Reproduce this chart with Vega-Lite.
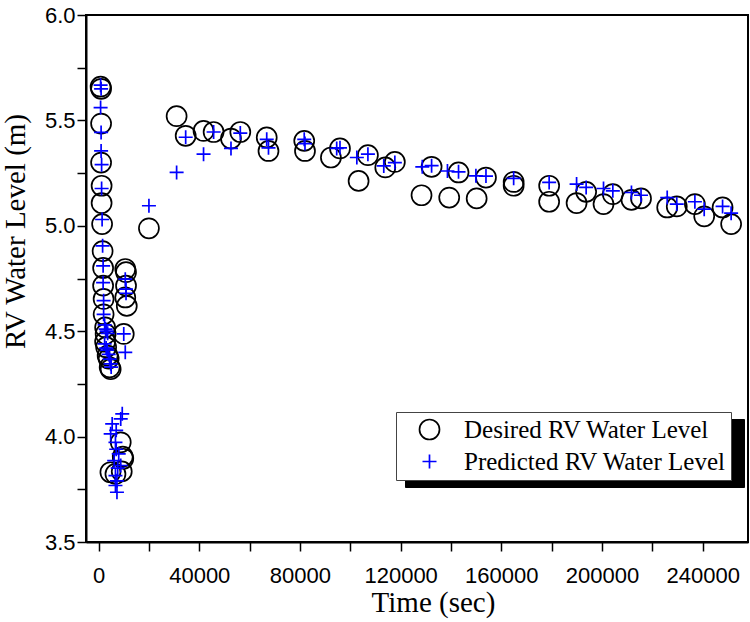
{
  "$schema": "https://vega.github.io/schema/vega-lite/v6.json",
  "width": 662,
  "height": 527,
  "autosize": "none",
  "padding": {"left": 86, "top": 15, "right": 2, "bottom": 80},
  "background": "white",
  "config": {
    "view": {"stroke": "black", "strokeWidth": 2},
    "axis": {
      "grid": false,
      "ticks": true,
      "zindex": 1,
      "domainColor": "black",
      "domainWidth": 2,
      "tickColor": "black",
      "tickWidth": 1.5,
      "labelFont": "Liberation Sans",
      "labelFontSize": 22,
      "labelColor": "black",
      "titleFont": "Liberation Serif",
      "titleFontSize": 29,
      "titleFontWeight": "normal",
      "titleColor": "black",
      "labelOverlap": false,
      "labelFlush": false,
      "labelBound": false
    }
  },
  "data": {
    "values": [
      {"t": 800, "level": 5.66, "series": "Desired RV Water Level"},
      {"t": 1000, "level": 5.65, "series": "Desired RV Water Level"},
      {"t": 1000, "level": 5.485, "series": "Desired RV Water Level"},
      {"t": 1000, "level": 5.30, "series": "Desired RV Water Level"},
      {"t": 1200, "level": 5.19, "series": "Desired RV Water Level"},
      {"t": 1200, "level": 5.108, "series": "Desired RV Water Level"},
      {"t": 1400, "level": 5.008, "series": "Desired RV Water Level"},
      {"t": 1600, "level": 4.88, "series": "Desired RV Water Level"},
      {"t": 1800, "level": 4.80, "series": "Desired RV Water Level"},
      {"t": 1800, "level": 4.716, "series": "Desired RV Water Level"},
      {"t": 2000, "level": 4.653, "series": "Desired RV Water Level"},
      {"t": 2000, "level": 4.58, "series": "Desired RV Water Level"},
      {"t": 2600, "level": 4.518, "series": "Desired RV Water Level"},
      {"t": 2800, "level": 4.487, "series": "Desired RV Water Level"},
      {"t": 2600, "level": 4.45, "series": "Desired RV Water Level"},
      {"t": 3000, "level": 4.424, "series": "Desired RV Water Level"},
      {"t": 3600, "level": 4.384, "series": "Desired RV Water Level"},
      {"t": 4000, "level": 4.37, "series": "Desired RV Water Level"},
      {"t": 4400, "level": 4.329, "series": "Desired RV Water Level"},
      {"t": 4800, "level": 4.32, "series": "Desired RV Water Level"},
      {"t": 10600, "level": 4.795, "series": "Desired RV Water Level"},
      {"t": 10900, "level": 4.78, "series": "Desired RV Water Level"},
      {"t": 10900, "level": 4.716, "series": "Desired RV Water Level"},
      {"t": 10600, "level": 4.66, "series": "Desired RV Water Level"},
      {"t": 11200, "level": 4.62, "series": "Desired RV Water Level"},
      {"t": 10000, "level": 4.487, "series": "Desired RV Water Level"},
      {"t": 8800, "level": 3.973, "series": "Desired RV Water Level"},
      {"t": 9600, "level": 3.905, "series": "Desired RV Water Level"},
      {"t": 9800, "level": 3.895, "series": "Desired RV Water Level"},
      {"t": 4700, "level": 3.831, "series": "Desired RV Water Level"},
      {"t": 6700, "level": 3.823, "series": "Desired RV Water Level"},
      {"t": 9200, "level": 3.835, "series": "Desired RV Water Level"},
      {"t": 20000, "level": 4.988, "series": "Desired RV Water Level"},
      {"t": 31000, "level": 5.52, "series": "Desired RV Water Level"},
      {"t": 34600, "level": 5.427, "series": "Desired RV Water Level"},
      {"t": 41700, "level": 5.45, "series": "Desired RV Water Level"},
      {"t": 45700, "level": 5.445, "series": "Desired RV Water Level"},
      {"t": 52600, "level": 5.414, "series": "Desired RV Water Level"},
      {"t": 56300, "level": 5.445, "series": "Desired RV Water Level"},
      {"t": 66800, "level": 5.419, "series": "Desired RV Water Level"},
      {"t": 67500, "level": 5.355, "series": "Desired RV Water Level"},
      {"t": 81700, "level": 5.403, "series": "Desired RV Water Level"},
      {"t": 82000, "level": 5.355, "series": "Desired RV Water Level"},
      {"t": 92300, "level": 5.324, "series": "Desired RV Water Level"},
      {"t": 95900, "level": 5.367, "series": "Desired RV Water Level"},
      {"t": 103300, "level": 5.213, "series": "Desired RV Water Level"},
      {"t": 107000, "level": 5.335, "series": "Desired RV Water Level"},
      {"t": 113900, "level": 5.277, "series": "Desired RV Water Level"},
      {"t": 117700, "level": 5.303, "series": "Desired RV Water Level"},
      {"t": 128300, "level": 5.145, "series": "Desired RV Water Level"},
      {"t": 132300, "level": 5.28, "series": "Desired RV Water Level"},
      {"t": 139300, "level": 5.134, "series": "Desired RV Water Level"},
      {"t": 143000, "level": 5.253, "series": "Desired RV Water Level"},
      {"t": 150200, "level": 5.13, "series": "Desired RV Water Level"},
      {"t": 153900, "level": 5.229, "series": "Desired RV Water Level"},
      {"t": 164900, "level": 5.208, "series": "Desired RV Water Level"},
      {"t": 164900, "level": 5.19, "series": "Desired RV Water Level"},
      {"t": 179000, "level": 5.19, "series": "Desired RV Water Level"},
      {"t": 179000, "level": 5.114, "series": "Desired RV Water Level"},
      {"t": 189900, "level": 5.108, "series": "Desired RV Water Level"},
      {"t": 193700, "level": 5.161, "series": "Desired RV Water Level"},
      {"t": 200600, "level": 5.103, "series": "Desired RV Water Level"},
      {"t": 204300, "level": 5.15, "series": "Desired RV Water Level"},
      {"t": 211700, "level": 5.123, "series": "Desired RV Water Level"},
      {"t": 215500, "level": 5.13, "series": "Desired RV Water Level"},
      {"t": 225900, "level": 5.087, "series": "Desired RV Water Level"},
      {"t": 229700, "level": 5.092, "series": "Desired RV Water Level"},
      {"t": 236900, "level": 5.103, "series": "Desired RV Water Level"},
      {"t": 240600, "level": 5.045, "series": "Desired RV Water Level"},
      {"t": 247900, "level": 5.087, "series": "Desired RV Water Level"},
      {"t": 251300, "level": 5.008, "series": "Desired RV Water Level"},
      {"t": 800, "level": 5.667, "series": "Predicted RV Water Level"},
      {"t": 1000, "level": 5.65, "series": "Predicted RV Water Level"},
      {"t": 800, "level": 5.561, "series": "Predicted RV Water Level"},
      {"t": 1000, "level": 5.443, "series": "Predicted RV Water Level"},
      {"t": 1000, "level": 5.355, "series": "Predicted RV Water Level"},
      {"t": 1200, "level": 5.29, "series": "Predicted RV Water Level"},
      {"t": 1200, "level": 5.177, "series": "Predicted RV Water Level"},
      {"t": 1400, "level": 5.03, "series": "Predicted RV Water Level"},
      {"t": 1600, "level": 4.905, "series": "Predicted RV Water Level"},
      {"t": 1800, "level": 4.81, "series": "Predicted RV Water Level"},
      {"t": 1800, "level": 4.73, "series": "Predicted RV Water Level"},
      {"t": 2000, "level": 4.645, "series": "Predicted RV Water Level"},
      {"t": 2000, "level": 4.58, "series": "Predicted RV Water Level"},
      {"t": 2400, "level": 4.53, "series": "Predicted RV Water Level"},
      {"t": 2800, "level": 4.51, "series": "Predicted RV Water Level"},
      {"t": 3200, "level": 4.50, "series": "Predicted RV Water Level"},
      {"t": 3600, "level": 4.49, "series": "Predicted RV Water Level"},
      {"t": 2400, "level": 4.44, "series": "Predicted RV Water Level"},
      {"t": 3000, "level": 4.42, "series": "Predicted RV Water Level"},
      {"t": 3400, "level": 4.41, "series": "Predicted RV Water Level"},
      {"t": 4000, "level": 4.39, "series": "Predicted RV Water Level"},
      {"t": 4400, "level": 4.368, "series": "Predicted RV Water Level"},
      {"t": 4800, "level": 4.345, "series": "Predicted RV Water Level"},
      {"t": 5000, "level": 4.33, "series": "Predicted RV Water Level"},
      {"t": 10600, "level": 4.747, "series": "Predicted RV Water Level"},
      {"t": 10900, "level": 4.70, "series": "Predicted RV Water Level"},
      {"t": 10900, "level": 4.68, "series": "Predicted RV Water Level"},
      {"t": 10000, "level": 4.487, "series": "Predicted RV Water Level"},
      {"t": 10600, "level": 4.40, "series": "Predicted RV Water Level"},
      {"t": 9400, "level": 4.108, "series": "Predicted RV Water Level"},
      {"t": 8800, "level": 4.084, "series": "Predicted RV Water Level"},
      {"t": 5400, "level": 4.06, "series": "Predicted RV Water Level"},
      {"t": 7000, "level": 4.03, "series": "Predicted RV Water Level"},
      {"t": 4800, "level": 4.013, "series": "Predicted RV Water Level"},
      {"t": 6700, "level": 3.973, "series": "Predicted RV Water Level"},
      {"t": 7000, "level": 3.94, "series": "Predicted RV Water Level"},
      {"t": 8000, "level": 3.918, "series": "Predicted RV Water Level"},
      {"t": 6200, "level": 3.886, "series": "Predicted RV Water Level"},
      {"t": 8800, "level": 3.863, "series": "Predicted RV Water Level"},
      {"t": 7600, "level": 3.85, "series": "Predicted RV Water Level"},
      {"t": 6700, "level": 3.815, "series": "Predicted RV Water Level"},
      {"t": 7300, "level": 3.79, "series": "Predicted RV Water Level"},
      {"t": 6700, "level": 3.768, "series": "Predicted RV Water Level"},
      {"t": 7300, "level": 3.736, "series": "Predicted RV Water Level"},
      {"t": 20000, "level": 5.095, "series": "Predicted RV Water Level"},
      {"t": 31000, "level": 5.253, "series": "Predicted RV Water Level"},
      {"t": 34600, "level": 5.42, "series": "Predicted RV Water Level"},
      {"t": 41700, "level": 5.34, "series": "Predicted RV Water Level"},
      {"t": 45700, "level": 5.445, "series": "Predicted RV Water Level"},
      {"t": 52600, "level": 5.367, "series": "Predicted RV Water Level"},
      {"t": 56300, "level": 5.44, "series": "Predicted RV Water Level"},
      {"t": 66800, "level": 5.41, "series": "Predicted RV Water Level"},
      {"t": 67500, "level": 5.37, "series": "Predicted RV Water Level"},
      {"t": 81700, "level": 5.41, "series": "Predicted RV Water Level"},
      {"t": 82000, "level": 5.39, "series": "Predicted RV Water Level"},
      {"t": 94600, "level": 5.367, "series": "Predicted RV Water Level"},
      {"t": 95900, "level": 5.37, "series": "Predicted RV Water Level"},
      {"t": 102600, "level": 5.324, "series": "Predicted RV Water Level"},
      {"t": 107000, "level": 5.34, "series": "Predicted RV Water Level"},
      {"t": 113300, "level": 5.284, "series": "Predicted RV Water Level"},
      {"t": 117700, "level": 5.30, "series": "Predicted RV Water Level"},
      {"t": 128600, "level": 5.28, "series": "Predicted RV Water Level"},
      {"t": 132300, "level": 5.285, "series": "Predicted RV Water Level"},
      {"t": 138600, "level": 5.26, "series": "Predicted RV Water Level"},
      {"t": 143000, "level": 5.256, "series": "Predicted RV Water Level"},
      {"t": 149900, "level": 5.237, "series": "Predicted RV Water Level"},
      {"t": 153900, "level": 5.236, "series": "Predicted RV Water Level"},
      {"t": 164900, "level": 5.225, "series": "Predicted RV Water Level"},
      {"t": 179000, "level": 5.206, "series": "Predicted RV Water Level"},
      {"t": 189900, "level": 5.198, "series": "Predicted RV Water Level"},
      {"t": 193700, "level": 5.182, "series": "Predicted RV Water Level"},
      {"t": 200600, "level": 5.177, "series": "Predicted RV Water Level"},
      {"t": 204300, "level": 5.166, "series": "Predicted RV Water Level"},
      {"t": 211700, "level": 5.158, "series": "Predicted RV Water Level"},
      {"t": 215500, "level": 5.145, "series": "Predicted RV Water Level"},
      {"t": 225900, "level": 5.134, "series": "Predicted RV Water Level"},
      {"t": 229700, "level": 5.103, "series": "Predicted RV Water Level"},
      {"t": 236900, "level": 5.114, "series": "Predicted RV Water Level"},
      {"t": 240600, "level": 5.079, "series": "Predicted RV Water Level"},
      {"t": 247900, "level": 5.092, "series": "Predicted RV Water Level"},
      {"t": 251300, "level": 5.06, "series": "Predicted RV Water Level"}
    ]
  },
  "mark": {"type": "point", "filled": false, "size": 400, "strokeWidth": 1.7, "opacity": 1},
  "encoding": {
    "x": {
      "field": "t", "type": "quantitative",
      "scale": {"domain": [-5000, 258000], "nice": false, "zero": false},
      "axis": {
        "title": "Time (sec)",
        "values": [0, 20000, 40000, 60000, 80000, 100000, 120000, 140000, 160000, 180000, 200000, 220000, 240000],
        "format": "d",
        "labelExpr": "datum.value % 40000 === 0 ? datum.label : ''",
        "tickSize": 9,
        "labelPadding": 14,
        "titleX": 347,
        "titlePadding": 2,
        "encode": {"ticks": {"update": {"y2": {"signal": "datum.value % 40000 === 0 ? -9 : -5"}}}}
      }
    },
    "y": {
      "field": "level", "type": "quantitative",
      "scale": {"domain": [3.5, 6.0], "nice": false, "zero": false},
      "axis": {
        "title": "RV Water Level (m)",
        "values": [3.5, 3.75, 4.0, 4.25, 4.5, 4.75, 5.0, 5.25, 5.5, 5.75, 6.0],
        "labelExpr": "(datum.value * 2) % 1 === 0 ? format(datum.value, '.1f') : ''",
        "tickSize": 9,
        "labelPadding": 2,
        "titleY": 216,
        "titlePadding": 14,
        "encode": {"ticks": {"update": {"x2": {"signal": "(datum.value * 2) % 1 === 0 ? 9 : 5"}}}}
      }
    },
    "shape": {
      "field": "series", "type": "nominal",
      "scale": {"range": ["circle", "M-0.7,0H0.7M0,-0.7V0.7"]},
      "legend": {
        "title": null,
        "orient": "none",
        "legendX": 310,
        "legendY": 397,
        "fillColor": "white",
        "strokeColor": "#444",
        "padding": 5,
        "symbolOffset": 16,
        "labelOffset": 22,
        "labelFont": "Liberation Serif",
        "labelFontSize": 25,
        "labelColor": "black",
        "labelLimit": 400,
        "rowPadding": 6,
        "symbolSize": 400,
        "symbolStrokeWidth": 1.7,
        "zindex": 2
      }
    },
    "color": {
      "field": "series", "type": "nominal",
      "scale": {"range": ["black", "#0000ff"]},
      "legend": {
        "title": null,
        "orient": "none",
        "legendX": 310,
        "legendY": 397,
        "fillColor": "white",
        "strokeColor": "#444",
        "padding": 5,
        "symbolOffset": 16,
        "labelOffset": 22,
        "labelFont": "Liberation Serif",
        "labelFontSize": 25,
        "labelColor": "black",
        "labelLimit": 400,
        "rowPadding": 6,
        "symbolSize": 400,
        "symbolStrokeWidth": 1.7,
        "zindex": 2
      }
    },
    "opacity": {
      "field": "series", "type": "nominal",
      "scale": {"domain": ["Desired RV Water Level", "Predicted RV Water Level"], "range": [1, 1]},
      "legend": {
        "title": null,
        "orient": "none",
        "legendX": 319,
        "legendY": 404,
        "fillColor": "black",
        "strokeColor": "black",
        "padding": 5,
        "symbolOffset": 16,
        "labelExpr": "''",
        "labelOffset": 288,
        "labelFont": "Liberation Serif",
        "labelFontSize": 25,
        "labelColor": "black",
        "labelLimit": 400,
        "rowPadding": 5,
        "symbolSize": 400,
        "symbolFillColor": "black",
        "symbolStrokeColor": "black",
        "zindex": 1
      }
    }
  }
}
